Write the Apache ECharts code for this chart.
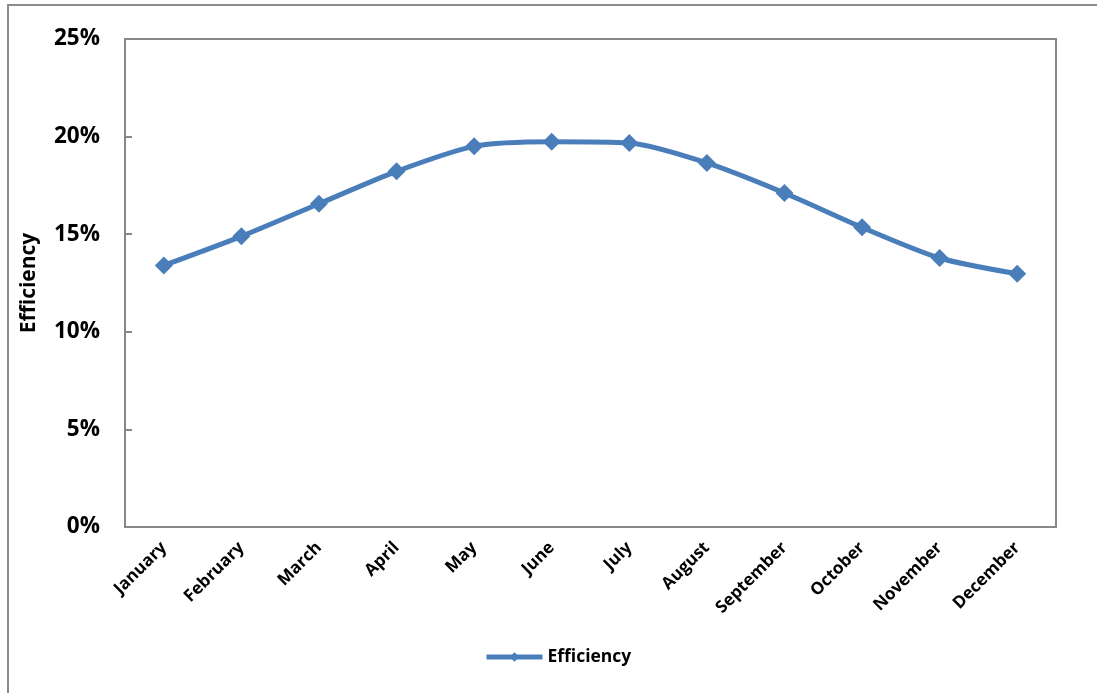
<!DOCTYPE html>
<html>
<head>
<meta charset="utf-8">
<script src="https://cdn.jsdelivr.net/npm/echarts@6/dist/echarts.min.js"></script>
<style>
  html, body { margin: 0; padding: 0; background: #fff; }
  #frame { position: absolute; left: 7px; top: 4px; width: 1200px; height: 800px;
           border-left: 2px solid #8c8c8c; border-top: 2px solid #8c8c8c; box-sizing: border-box; }
  #chart { position: absolute; left: 0; top: 0; width: 1097px; height: 693px; }
</style>
</head>
<body>
<div id="frame"></div>
<div id="chart"></div>
<script>
const categories = ['January','February','March','April','May','June','July','August','September','October','November','December'];
const efficiency = [13.40, 14.89, 16.56, 18.22, 19.50, 19.73, 19.67, 18.65, 17.11, 15.35, 13.78, 12.97];
const seriesName = 'Efficiency';
const yTicks = [0, 5, 10, 15, 20, 25];

const chart = echarts.init(document.getElementById('chart'), null, { renderer: 'canvas' });
const font = '"Open Sans", Lato, "Liberation Sans", sans-serif';
chart.setOption({
  animation: false,
  backgroundColor: 'transparent',
  grid: { left: 125, right: 41, top: 39, bottom: 166, show: true, borderColor: '#888', borderWidth: 2, containLabel: false },
  legend: {
    bottom: 22, left: 479,
    data: [seriesName],
    itemWidth: 56, itemHeight: 12, itemGap: 4,
    lineStyle: { width: 5 },
    textStyle: { fontFamily: font, fontWeight: 'bold', fontSize: 17.5, color: '#000' }
  },
  xAxis: {
    type: 'category', data: categories, boundaryGap: true,
    axisLine: { lineStyle: { color: '#888', width: 2 } },
    axisTick: { show: false },
    axisLabel: { rotate: 45, interval: 0, margin: 18, fontFamily: font, fontWeight: 'bold', fontSize: 17, color: '#000' }
  },
  yAxis: {
    type: 'value', min: yTicks[0], max: yTicks[yTicks.length - 1], interval: 5,
    name: seriesName, nameLocation: 'middle', nameGap: 85, nameRotate: 90,
    nameTextStyle: { fontFamily: font, fontWeight: 'bold', fontSize: 21, color: '#000' },
    axisLine: { show: true, lineStyle: { color: '#888', width: 2 } },
    axisTick: { show: true, inside: true, length: 7, lineStyle: { color: '#888', width: 2 } },
    splitLine: { show: false },
    axisLabel: { formatter: v => v + '%', margin: 25, fontFamily: font, fontWeight: 'bold', fontSize: 22.5, color: '#000' }
  },
  series: [{
    name: seriesName, type: 'line', data: efficiency, smooth: 0.25,
    symbol: 'diamond', symbolSize: 18,
    lineStyle: { color: '#4A7EBB', width: 5 },
    itemStyle: { color: '#4A7EBB' }
  }]
});
</script>
</body>
</html>
